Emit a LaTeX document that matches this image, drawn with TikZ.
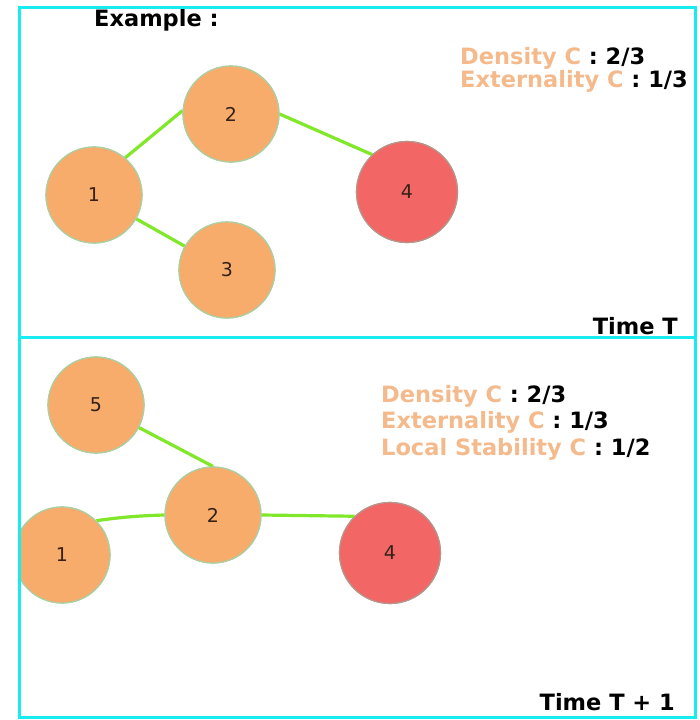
\documentclass[tikz,border=0pt]{standalone}
\usepackage{fontspec}
\setmainfont{DejaVu Sans}
\definecolor{framecyan}{RGB}{24,236,240}
\definecolor{nodeorange}{RGB}{248,172,108}
\definecolor{nodered}{RGB}{242,102,102}
\definecolor{rimgreen}{RGB}{172,206,160}
\definecolor{rimgrey}{RGB}{180,150,140}
\definecolor{linkgreen}{RGB}{128,232,40}
\definecolor{labelorange}{RGB}{245,186,140}
\definecolor{numdark}{RGB}{50,34,26}
\begin{document}
\begin{tikzpicture}[x=1pt,y=-1pt,
  vtx/.style={circle, minimum size=96pt, inner sep=0pt, fill=nodeorange,
    draw=rimgreen, line width=1.2pt, text=numdark,
    font=\fontsize{19}{22}\selectfont},
  hot/.style={vtx, fill=nodered, draw=rimgrey, minimum size=101pt},
  link/.style={draw=linkgreen, line width=3.2pt},
  panel/.style={draw=framecyan, line width=3pt},
  heading/.style={anchor=base west, inner sep=0pt,
    font=\fontsize{22.5}{26}\selectfont\bfseries},
  metric/.style={anchor=base west, inner sep=0pt,
    font=\fontsize{22.5}{26}\selectfont\bfseries},
  stamp/.style={anchor=base east, inner sep=0pt,
    font=\fontsize{22.5}{26}\selectfont\bfseries}
]
\useasboundingbox (0,0) rectangle (699,720);
\fill[white] (0,0) rectangle (699,720);

% ---- panel at time T ----
\node[heading] (ex) at (94,26) {Example :};

\node[vtx] (t2) at (231,114) {2};
\node[vtx] (t1) at (94,195) {1};
\node[vtx] (t3) at (227,270) {3};
\node[hot] (t4) at (407,192) {4};

\draw[link] (t1.50) -- (t2.176);
\draw[link] (t1) -- (t3);
\draw[link] (t2.east) -- (t4.133);
% keep circles above their links
\node[vtx] at (t2) {2};
\node[vtx] at (t1) {1};
\node[vtx] at (t3) {3};
\node[hot] at (t4) {4};

\node[metric] (td) at (460,64) {\textcolor{labelorange}{Density C} : 2/3};
\node[metric] (te) at (460,87) {\textcolor{labelorange}{Externality C} : 1/3};

\node[stamp] (tt) at (678,334) {Time T};

% ---- panel at time T + 1 (contents clipped to the panel) ----
\begin{scope}
\clip (19,337) rectangle (695,717);
\node[vtx] (b5) at (96,405) {5};
\node[vtx] (b2) at (213,515) {2};
\node[vtx] (b1) at (62,555) {1};
\node[hot] (b4) at (390,553) {4};

\draw[link] (b5) -- (b2.north);
\draw[link] (b1.45) to[bend left=3] (b2.west);
\draw[link] (b2.east) -- (b4.134);
\node[vtx] at (b5) {5};
\node[vtx] at (b2) {2};
\node[vtx] at (b1) {1};
\node[hot] at (b4) {4};
\end{scope}

\node[metric] (bd) at (381,402) {\textcolor{labelorange}{Density C} : 2/3};
\node[metric] (be) at (381,428) {\textcolor{labelorange}{Externality C} : 1/3};
\node[metric] (bl) at (381,455) {\textcolor{labelorange}{Local Stability C} : 1/2};

\node[stamp] (bt) at (675,710) {Time T + 1};

% two stacked panels
\draw[panel] (19,7) rectangle (695,337);
\draw[panel] (19,337) rectangle (695,717);
\end{tikzpicture}
\end{document}
